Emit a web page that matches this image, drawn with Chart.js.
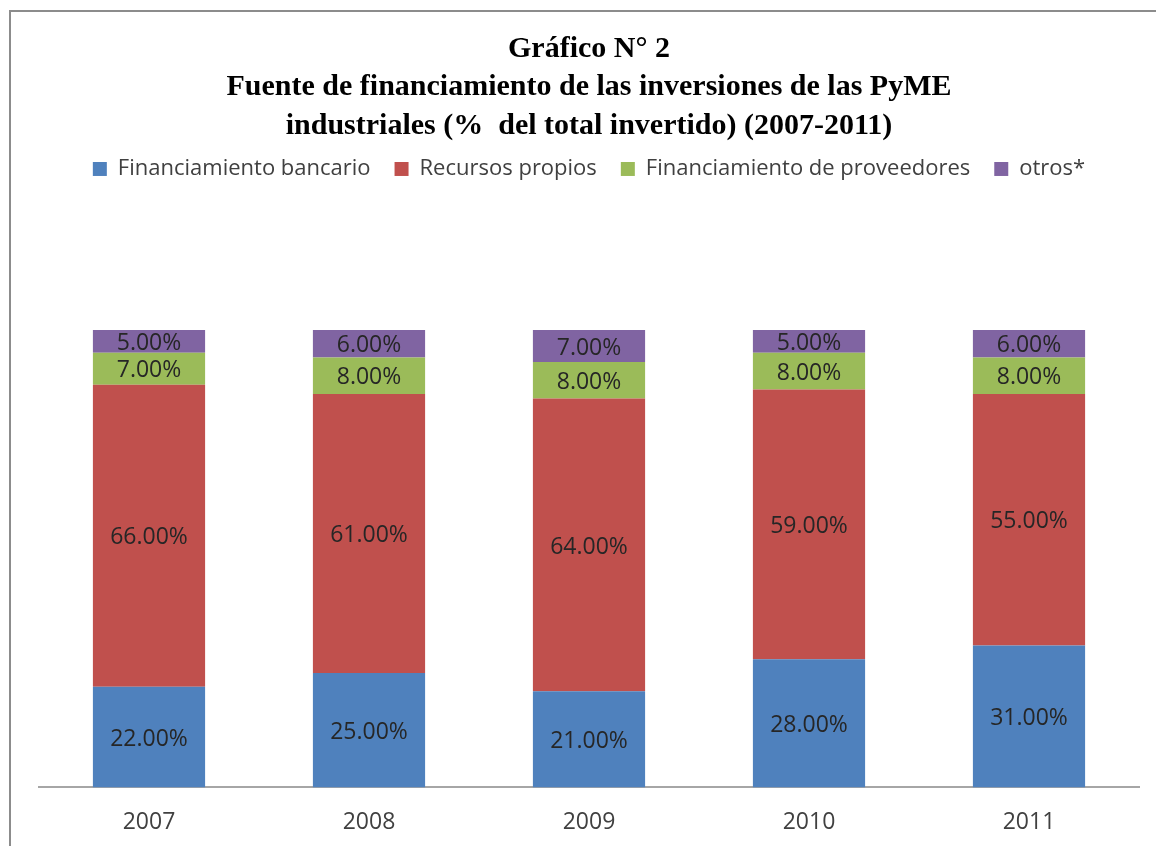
<!DOCTYPE html>
<html>
<head>
<meta charset="utf-8">
<script src="https://cdn.jsdelivr.net/npm/chart.js@4.4.1/dist/chart.umd.min.js"></script>
<style>
  html, body { margin: 0; padding: 0; background: #fff; }
  #wrap { position: relative; width: 1156px; height: 846px; }
  #frame { position: absolute; left: 9px; top: 10px; width: 1147px; height: 836px;
           border-top: 2px solid #8c8c8c; border-left: 2px solid #8c8c8c; box-sizing: border-box; pointer-events: none; }
  canvas { position: absolute; left: 0; top: 0; }
</style>
</head>
<body>
<div id="wrap">
  <canvas id="c" width="1156" height="846"></canvas>
  <div id="frame"></div>
</div>
<script>
const years = ['2007', '2008', '2009', '2010', '2011'];
const bancario = [22, 25, 21, 28, 31];
const propios = [66, 61, 64, 59, 55];
const proveedores = [7, 8, 8, 8, 8];
const otros = [5, 6, 7, 5, 6];
const seriesNames = ['Financiamiento bancario', 'Recursos propios', 'Financiamiento de proveedores', 'otros*'];
const titleLines = ['Gráfico N° 2', 'Fuente de financiamiento de las inversiones de las PyME', 'industriales (%  del total invertido) (2007-2011)'];

const colors = ['#4F81BD', '#C0504D', '#9BBB59', '#8064A2'];

const legendGap = {
  id: 'legendGap',
  beforeLayout(chart) {
    const lg = chart.legend;
    if (lg && !lg._gapWrapped) {
      const f = lg.fit;
      lg.fit = function () { f.call(this); this.height += 140; };
      lg._gapWrapped = true;
    }
  }
};

const segLabels = {
  id: 'segLabels',
  afterDatasetsDraw(chart) {
    const ctx = chart.ctx;
    ctx.save();
    ctx.font = '23px "Open Sans"';
    ctx.fillStyle = '#262626';
    ctx.textAlign = 'center';
    ctx.textBaseline = 'middle';
    chart.data.datasets.forEach((ds, i) => {
      const meta = chart.getDatasetMeta(i);
      meta.data.forEach((el, j) => {
        const v = ds.data[j];
        const p = el.getProps(['x', 'y', 'base'], true);
        ctx.fillText(v.toFixed(2) + '%', p.x, (p.y + p.base) / 2 + 2);
      });
    });
    ctx.restore();
  }
};

const dataArrays = [bancario, propios, proveedores, otros];

new Chart(document.getElementById('c'), {
  type: 'bar',
  data: {
    labels: years,
    datasets: dataArrays.map((d, i) => ({
      label: seriesNames[i],
      data: d,
      backgroundColor: colors[i],
      borderWidth: 0,
      categoryPercentage: 1,
      barPercentage: 0.51
    }))
  },
  options: {
    responsive: false,
    animation: false,
    layout: { padding: { left: 39, right: 17, top: 0, bottom: 1 } },
    plugins: {
      tooltip: { enabled: false },
      title: {
        display: true,
        text: titleLines,
        color: '#000',
        font: { family: '"Liberation Serif"', size: 30, weight: 'bold', lineHeight: 1.283 },
        padding: { top: 30, bottom: -11.5 }
      },
      legend: {
        display: true,
        position: 'top',
        labels: {
          boxWidth: 14,
          boxHeight: 14,
          padding: 24,
          color: '#404040',
          font: { family: '"Open Sans"', size: 22 }
        }
      }
    },
    scales: {
      x: {
        stacked: true,
        grid: { display: true, color: 'transparent', drawOnChartArea: false, drawTicks: true, tickLength: 12 },
        border: { display: true, color: '#A6A6A6', width: 2 },
        ticks: { color: '#404040', padding: 9, font: { family: '"Open Sans"', size: 23 } }
      },
      y: {
        stacked: true,
        display: false,
        min: 0,
        max: 100
      }
    }
  },
  plugins: [legendGap, segLabels]
});
</script>
</body>
</html>
